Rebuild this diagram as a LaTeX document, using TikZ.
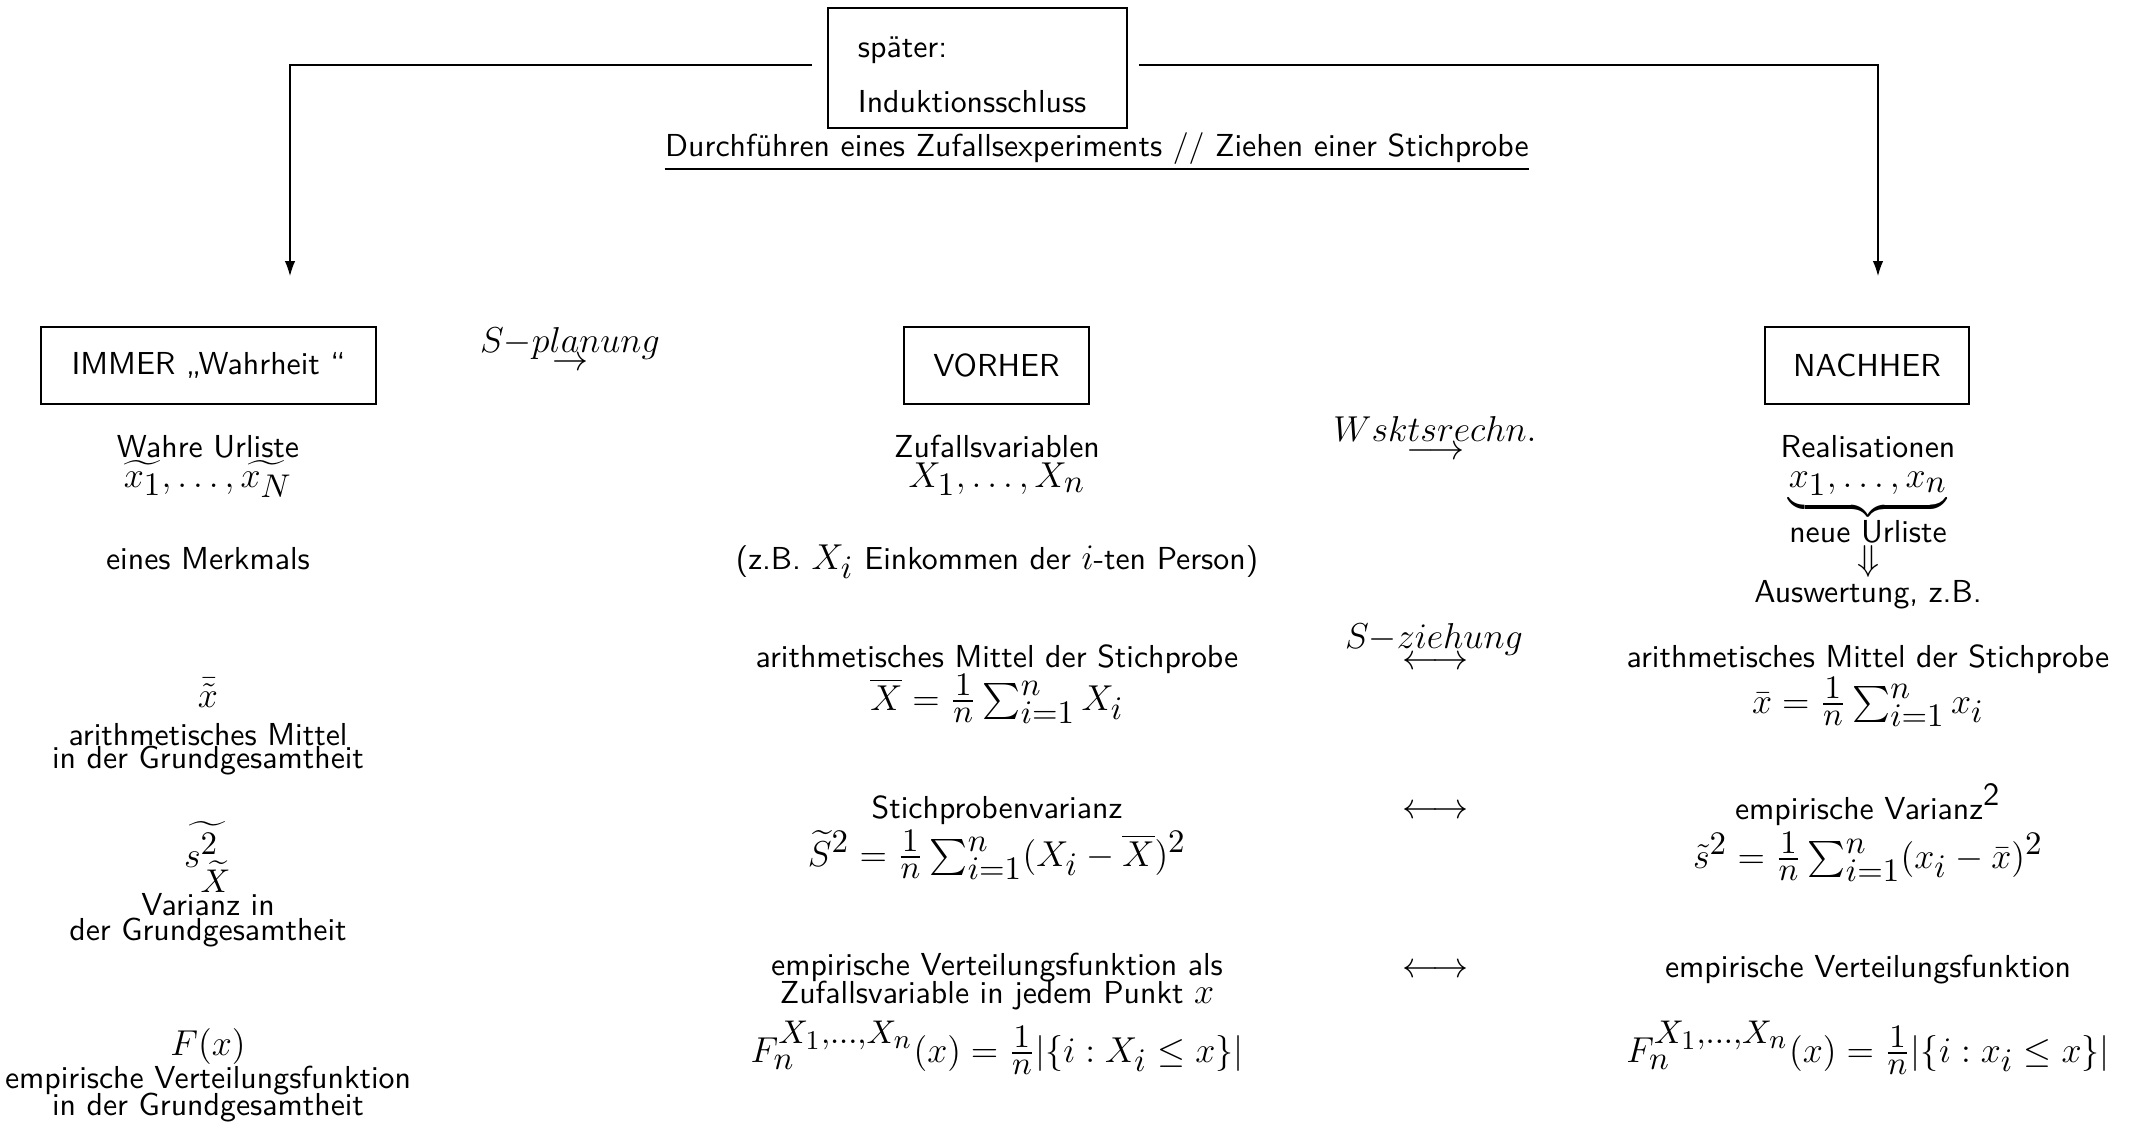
\documentclass[tikz,border=0pt]{standalone}
\usepackage{fontspec}
\usepackage{amsmath}
\DeclareMathSizes{10.6}{12}{10.8}{9.3}
\usetikzlibrary{arrows.meta}
\begin{document}
\begin{tikzpicture}[x=0.33333pt,y=-0.33333pt, font=\sffamily\fontsize{10.6}{12.7}\selectfont,
  t/.style={inner sep=0pt, anchor=base},
  box/.style={draw, line width=0.8pt, inner sep=0pt},
  arr/.style={-{Latex[length=5pt,width=3.5pt]}, line width=0.4pt}]
\useasboundingbox (0,0) rectangle (2135,1122);

% top box and heading
\node[box, minimum height=40pt, align=left, text width=79.7pt, inner xsep=10pt] (top) at (977.5,68) {\rule{0pt}{11.5pt}später:\\[5.6pt]Induktionsschluss};
\node[t] (exp) at (1097,156) {Durchführen eines Zufallsexperiments // Ziehen einer Stichprobe};
\draw[line width=0.6pt] ([yshift=-4.3pt]exp.base west) -- ([yshift=-4.3pt]exp.base east);

% column boxes
\node[box, minimum width=111.7pt, minimum height=25.7pt] (immer) at (208.5,365.5) {IMMER „Wahrheit “};
\node[box, minimum width=61.7pt, minimum height=25.7pt] (vorher) at (996.5,365.5) {VORHER};
\node[box, minimum width=68pt, minimum height=25.7pt] (nachher) at (1867,365.5) {NACHHER};

% connectors
\coordinate (lt) at (290,276);
\coordinate (rt) at (1878,276);
\draw[arr, shorten <=5pt] ([yshift=1pt]top.west) -| (lt);
\draw[arr, shorten <=3.5pt] ([yshift=1pt]top.east) -| (rt);

% column 1
\node[t] (c1a) at (208,457) {Wahre Urliste};
\node[t] (c1b) at (208,487) {$\widetilde{x_1},\ldots,\widetilde{x_N}$};
\node[t] (c1c) at (208,569) {eines Merkmals};
\node[t] (c1d) at (208,707) {$\bar{\tilde{x}}$};
\node[t] (c1e) at (208,745) {arithmetisches Mittel};
\node[t] (c1f) at (208,768) {in der Grundgesamtheit};
\node[t] (c1g) at (208,867) {$\widetilde{s^2_{\widetilde{X}}}$};
\node[t] (c1h) at (208,915) {Varianz in};
\node[t] (c1i) at (208,940) {der Grundgesamtheit};
\node[t] (c1j) at (208,1055) {$F(x)$};
\node[t] (c1k) at (208,1088) {empirische Verteilungsfunktion};
\node[t] (c1l) at (208,1115) {in der Grundgesamtheit};

% column 2
\node[t] (c2a) at (997,457) {Zufallsvariablen};
\node[t] (c2b) at (997,487) {$X_1,\ldots,X_n$};
\node[t] (c2c) at (997,569) {(z.B.\ $X_i$ Einkommen der $i$-ten Person)};
\node[t] (c2d) at (997,667) {arithmetisches Mittel der Stichprobe};
\node[t] (c2e) at (997,710) {$\overline{X}=\frac{1}{n}\sum_{i=1}^{n}X_i$};
\node[t] (c2f) at (997,818) {Stichprobenvarianz};
\node[t] (c2g) at (997,866) {$\widetilde{S}^2=\frac{1}{n}\sum_{i=1}^{n}(X_i-\overline{X})^2$};
\node[t] (c2h) at (997,975) {empirische Verteilungsfunktion als};
\node[t] (c2i) at (997,1003) {Zufallsvariable in jedem Punkt $x$};
\node[t] (c2j) at (997,1062) {$F_n^{X_1,\ldots,X_n}(x)=\frac{1}{n}|\{i:X_i\le x\}|$};

% arrows between columns
\node[t] (p1) at (570,352) {$S{-}planung$};
\node[t] (p1a) at (570,370) {$\rightarrow$};
\node[t] (w1) at (1435,441) {$Wsktsrechn.$};
\node[t] (w1a) at (1435,459) {$\longrightarrow$};
\node[t] (z1) at (1434,648) {$S{-}ziehung$};
\node[t] (z1a) at (1435,669) {$\longleftrightarrow$};
\node[t] (v1) at (1435,818) {$\longleftrightarrow$};
\node[t] (e1) at (1435,977) {$\longleftrightarrow$};

% column 4
\node[t] (c4a) at (1868,457) {Realisationen};
\node[t] (c4b) at (1868,487) {$\underbrace{x_1,\ldots,x_n}$};
\node[t] (c4c) at (1868,542) {neue Urliste};
\node[t] (c4d) at (1868,570) {$\Downarrow$};
\node[t] (c4e) at (1868,602) {Auswertung, z.B.};
\node[t] (c4f) at (1868,667) {arithmetisches Mittel der Stichprobe};
\node[t] (c4g) at (1868,713) {$\bar{x}=\frac{1}{n}\sum_{i=1}^{n}x_i$};
\node[t] (c4h) at (1868,819) {empirische Varianz\textsuperscript{2}};
\node[t] (c4i) at (1868,868) {$\tilde{s}^2=\frac{1}{n}\sum_{i=1}^{n}(x_i-\bar{x})^2$};
\node[t] (c4j) at (1868,977) {empirische Verteilungsfunktion};
\node[t] (c4k) at (1868,1062) {$F_n^{X_1,\ldots,X_n}(x)=\frac{1}{n}|\{i:x_i\le x\}|$};
\end{tikzpicture}
\end{document}
